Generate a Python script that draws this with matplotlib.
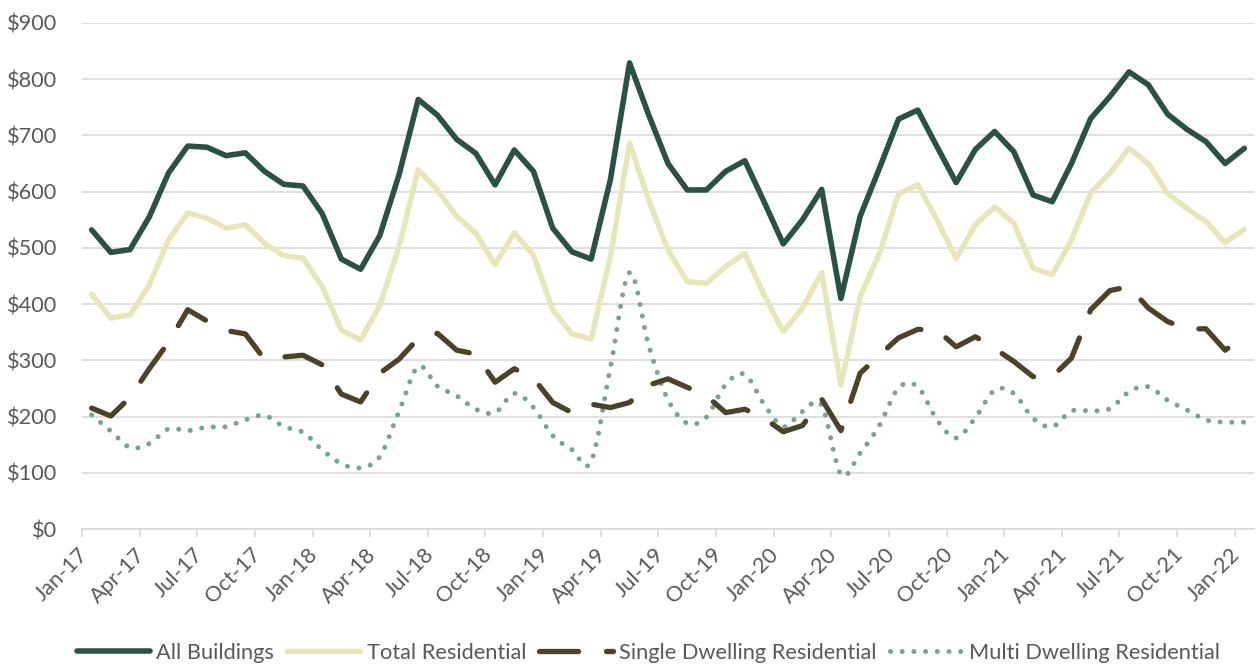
import numpy as np
import matplotlib
matplotlib.use("Agg")
import matplotlib.pyplot as plt
from matplotlib.path import Path
from matplotlib.patches import PathPatch
from matplotlib.lines import Line2D

plt.rcParams['font.family'] = ['Lato', 'DejaVu Sans']

# monthly values, Jan-17 .. Jan-22
all_buildings = [532, 492, 497, 555, 633, 681, 679, 664, 669, 636, 613, 610, 561, 480, 462, 522,
                 630, 764, 736, 693, 668, 612, 674, 636, 535, 493, 480, 621, 829, 736, 650, 603,
                 603, 636, 655, 582, 507, 550, 604, 410, 556, 641, 729, 745, 680, 616, 675, 707,
                 671, 594, 582, 650, 730, 769, 813, 790, 738, 711, 689, 650, 677]
total_residential = [418, 375, 381, 434, 514, 562, 553, 535, 541, 508, 486, 482, 431, 354, 336, 398,
                     502, 639, 603, 556, 526, 470, 527, 487, 390, 347, 338, 484, 686, 585, 496, 440,
                     437, 467, 490, 416, 351, 393, 456, 256, 413, 490, 596, 612, 550, 481, 541, 573,
                     544, 464, 452, 514, 598, 633, 677, 650, 597, 570, 547, 509, 533]
single_dwelling = [215, 201, 234, 285, 332, 390, 370, 353, 347, 302, 306, 309, 292, 240, 226, 277,
                   302, 339, 348, 318, 311, 261, 285, 268, 225, 207, 222, 216, 225, 256, 267, 252,
                   237, 207, 213, 197, 173, 184, 231, 175, 277, 309, 340, 355, 354, 324, 342, 321,
                   298, 271, 271, 304, 390, 424, 431, 393, 369, 356, 356, 318, 343]
multi_dwelling = [203, 174, 145, 152, 178, 175, 181, 182, 194, 202, 182, 172, 141, 116, 109, 129,
                  209, 289, 254, 237, 213, 207, 241, 216, 166, 141, 120, 287, 456, 326, 230, 188,
                  199, 257, 275, 222, 182, 209, 220, 97, 135, 184, 251, 253, 194, 162, 198, 247,
                  241, 197, 182, 210, 210, 214, 244, 253, 229, 212, 194, 190, 190]

tick_labels = ['Jan-17', 'Apr-17', 'Jul-17', 'Oct-17', 'Jan-18', 'Apr-18', 'Jul-18', 'Oct-18',
               'Jan-19', 'Apr-19', 'Jul-19', 'Oct-19', 'Jan-20', 'Apr-20', 'Jul-20', 'Oct-20',
               'Jan-21', 'Apr-21', 'Jul-21', 'Oct-21', 'Jan-22']
series_names = ['All Buildings', 'Total Residential', 'Single Dwelling Residential',
                'Multi Dwelling Residential']

C_ALL = '#2A5143'
C_TOT = '#E6E6B8'
C_SGL = '#4A4229'
C_MUL = '#7AA292'
GRID = '#D9D9D9'
TXT = '#595959'
FS = 15.7

SGL_DASH = (7.4, 5.3)
MUL_DOT = (0.01, 2.33)


def smooth_path(xs, ys):
    # cubic bezier through every point, excel-style smoothing
    pts = np.column_stack([xs, ys]).astype(float)
    n = len(pts)
    verts = [pts[0]]
    codes = [Path.MOVETO]
    for i in range(n - 1):
        p_prev = pts[max(i - 1, 0)]
        p0 = pts[i]
        p1 = pts[i + 1]
        p_next = pts[min(i + 2, n - 1)]
        c1 = p0 + (p1 - p_prev) / 6.0
        c2 = p1 - (p_next - p0) / 6.0
        verts += [c1, c2, p1]
        codes += [Path.CURVE4] * 3
    return Path(verts, codes)


fig = plt.figure(figsize=(12.58, 6.65), dpi=100)
ax = fig.add_axes([0.0652, 0.2045, 0.9316, 0.761])

x = np.arange(len(all_buildings))

ax.plot(x, all_buildings, color=C_ALL, lw=4.0, solid_joinstyle='round', solid_capstyle='round')
ax.plot(x, total_residential, color=C_TOT, lw=3.9, solid_joinstyle='round', solid_capstyle='round')
ax.plot(x, single_dwelling, color=C_SGL, lw=3.8, linestyle=(0, SGL_DASH),
        dash_capstyle='round', dash_joinstyle='round')
ax.add_patch(PathPatch(smooth_path(x, multi_dwelling), facecolor='none', edgecolor=C_MUL,
                       lw=3.6, linestyle=(0, MUL_DOT), capstyle='round', joinstyle='round'))

ax.set_xlim(-0.5, 60.5)
ax.set_ylim(0, 900)

# y axis
yt = np.arange(0, 901, 100)
ax.set_yticks(yt, [f'${v}' for v in yt])
ax.tick_params(axis='y', length=0, pad=18, labelsize=FS, labelcolor=TXT)
ax.yaxis.grid(True, color=GRID, lw=1.2)
ax.set_axisbelow(True)

# x axis: ticks on category boundaries, labels under every third month
ax.set_xticks(np.arange(-0.5, 60, 3))
ax.set_xticklabels([])
ax.set_xticks(np.arange(0, 61, 3), tick_labels, minor=True)
ax.tick_params(axis='x', which='major', length=6, width=1.2, color=GRID)
ax.tick_params(axis='x', which='minor', length=0, pad=11, labelsize=FS, labelcolor=TXT)
for lab in ax.get_xticklabels(minor=True):
    lab.set_rotation(45)
    lab.set_ha('right')

for s in ['top', 'right', 'left']:
    ax.spines[s].set_visible(False)
ax.spines['bottom'].set_color(GRID)
ax.spines['bottom'].set_linewidth(1.2)

handles = [
    Line2D([], [], color=C_ALL, lw=4.0, solid_capstyle='round'),
    Line2D([], [], color=C_TOT, lw=3.9, solid_capstyle='round'),
    Line2D([], [], color=C_SGL, lw=3.8, linestyle=(0, SGL_DASH), dash_capstyle='round'),
    Line2D([], [], color=C_MUL, lw=3.6, linestyle=(0, MUL_DOT), dash_capstyle='round'),
]
leg = fig.legend(handles, series_names, loc='center', bbox_to_anchor=(0.5155, 0.018), ncol=4,
                 frameon=False, fontsize=FS, handlelength=3.35, handletextpad=0.3,
                 columnspacing=0.6, borderaxespad=0)
for t in leg.get_texts():
    t.set_color(TXT)

fig.savefig('out.png', dpi=100)
